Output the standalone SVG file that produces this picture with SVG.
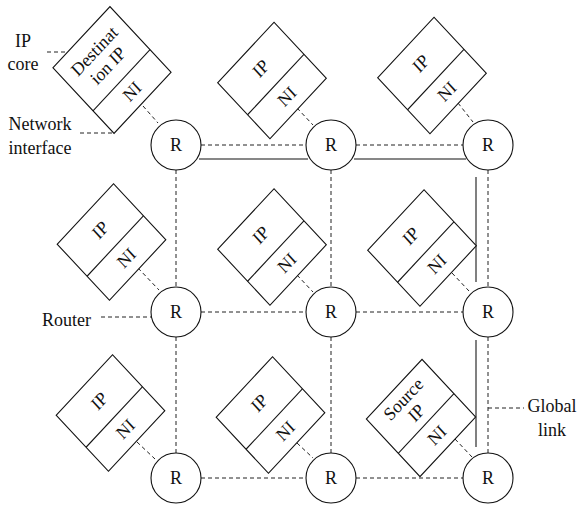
<svg xmlns="http://www.w3.org/2000/svg" width="578" height="507" viewBox="0 0 578 507" font-family="Liberation Serif, DejaVu Serif, serif">
<style>
text{font-family:'Liberation Serif','DejaVu Serif','Times New Roman',serif;font-size:18px;fill:#111}
.box rect,.box line{fill:none;stroke:#111;stroke-width:1.1}
.box rect{fill:#fff}
.bt{text-anchor:middle;dominant-baseline:central}
.r circle{fill:#fff;stroke:#111;stroke-width:1.1}
.r text{text-anchor:middle}
.d{stroke:#222;stroke-width:1;stroke-dasharray:4 3;fill:none}
.s{stroke:#111;stroke-width:1.2;fill:none}
.g{stroke:#808080;stroke-width:2;fill:none}
.lbl{text-anchor:middle}
</style>
<rect width="578" height="507" fill="#fff"/>
<g id="connectors">
<line class="d" x1="201" y1="145" x2="306" y2="145"/>
<line class="d" x1="356" y1="145" x2="463" y2="145"/>
<line class="s" x1="199" y1="159" x2="308" y2="159"/>
<line class="s" x1="354" y1="159" x2="466" y2="159"/>
<line class="d" x1="201" y1="312" x2="306" y2="312"/>
<line class="d" x1="356" y1="312" x2="463" y2="312"/>
<line class="d" x1="201" y1="478" x2="306" y2="478"/>
<line class="d" x1="356" y1="478" x2="463" y2="478"/>
<line class="d" x1="176" y1="170" x2="176" y2="287"/>
<line class="d" x1="176" y1="337" x2="176" y2="453"/>
<line class="d" x1="331" y1="170" x2="331" y2="287"/>
<line class="d" x1="331" y1="337" x2="331" y2="453"/>
<line class="d" x1="488" y1="170" x2="488" y2="287"/>
<line class="d" x1="488" y1="337" x2="488" y2="453"/>
<line class="g" x1="476" y1="177" x2="476" y2="282"/>
<line class="g" x1="476" y1="340" x2="476" y2="447"/>
<line class="d" x1="143" y1="106" x2="158" y2="123"/>
<line class="d" x1="297" y1="108" x2="313" y2="125"/>
<line class="d" x1="458" y1="103" x2="473" y2="122"/>
<line class="d" x1="138" y1="268" x2="159" y2="290"/>
<line class="d" x1="297" y1="275" x2="313" y2="292"/>
<line class="d" x1="452" y1="273" x2="469" y2="291"/>
<line class="d" x1="137" y1="442" x2="155" y2="459"/>
<line class="d" x1="297" y1="443" x2="313" y2="458"/>
<line class="d" x1="455" y1="439" x2="472" y2="457"/>
<line class="d" x1="47" y1="52" x2="67" y2="52"/>
<line class="d" x1="80" y1="133" x2="113" y2="133"/>
<line class="d" x1="101" y1="317" x2="152" y2="317"/>
<line class="d" x1="488" y1="408" x2="524" y2="408"/>
</g>
<g id="labels">
<text class="lbl" x="23" y="47">IP</text>
<text class="lbl" x="23" y="70">core</text>
<text class="lbl" x="40" y="130">Network</text>
<text class="lbl" x="40" y="154">interface</text>
<text x="42" y="326">Router</text>
<text class="lbl" x="552" y="412">Global</text>
<text class="lbl" x="552" y="436">link</text>
</g>
<g id="node-dest" class="box" transform="translate(112,70) scale(0.96,1.03) rotate(-45)">
<rect x="-42" y="-45" width="84" height="90"/>
<line x1="-42" y1="14" x2="42" y2="14"/>
<text class="bt" x="0" y="-26">Destinat</text>
<text class="bt" x="0" y="-6">ion IP</text>
<text class="bt" x="0" y="29.5">NI</text>
</g>
<g id="node-ip12" class="box" transform="translate(272,80.5) scale(0.96,1.03) rotate(-45)">
<rect x="-41.5" y="-38.5" width="83" height="77"/>
<line x1="-41.5" y1="5.5" x2="41.5" y2="5.5"/>
<text class="bt" x="0" y="-16.5">IP</text>
<text class="bt" x="0" y="22">NI</text>
</g>
<g id="node-ip13" class="box" transform="translate(432,75.5) scale(0.96,1.03) rotate(-45)">
<rect x="-41.5" y="-38.5" width="83" height="77"/>
<line x1="-41.5" y1="5.5" x2="41.5" y2="5.5"/>
<text class="bt" x="0" y="-16.5">IP</text>
<text class="bt" x="0" y="22">NI</text>
</g>
<g id="node-ip21" class="box" transform="translate(111.5,242) scale(0.96,1.03) rotate(-45)">
<rect x="-41.5" y="-38.5" width="83" height="77"/>
<line x1="-41.5" y1="5.5" x2="41.5" y2="5.5"/>
<text class="bt" x="0" y="-16.5">IP</text>
<text class="bt" x="0" y="22">NI</text>
</g>
<g id="node-ip22" class="box" transform="translate(272,247) scale(0.96,1.03) rotate(-45)">
<rect x="-41.5" y="-38.5" width="83" height="77"/>
<line x1="-41.5" y1="5.5" x2="41.5" y2="5.5"/>
<text class="bt" x="0" y="-16.5">IP</text>
<text class="bt" x="0" y="22">NI</text>
</g>
<g id="node-ip23" class="box" transform="translate(422,248) scale(0.96,1.03) rotate(-45)">
<rect x="-41.5" y="-38.5" width="83" height="77"/>
<line x1="-41.5" y1="5.5" x2="41.5" y2="5.5"/>
<text class="bt" x="0" y="-16.5">IP</text>
<text class="bt" x="0" y="22">NI</text>
</g>
<g id="node-ip31" class="box" transform="translate(110.5,413) scale(0.96,1.03) rotate(-45)">
<rect x="-41.5" y="-38.5" width="83" height="77"/>
<line x1="-41.5" y1="5.5" x2="41.5" y2="5.5"/>
<text class="bt" x="0" y="-16.5">IP</text>
<text class="bt" x="0" y="22">NI</text>
</g>
<g id="node-ip32" class="box" transform="translate(270.5,415) scale(0.96,1.03) rotate(-45)">
<rect x="-41.5" y="-38.5" width="83" height="77"/>
<line x1="-41.5" y1="5.5" x2="41.5" y2="5.5"/>
<text class="bt" x="0" y="-16.5">IP</text>
<text class="bt" x="0" y="22">NI</text>
</g>
<g id="node-source" class="box" transform="translate(421,418) scale(0.96,1.03) rotate(-45)">
<rect x="-41" y="-39.5" width="82" height="79"/>
<line x1="-41" y1="7.5" x2="41" y2="7.5"/>
<text class="bt" x="0" y="-26">Source</text>
<text class="bt" x="0" y="-7">IP</text>
<text class="bt" x="0" y="23.5">NI</text>
</g>
<g id="router-11" class="r"><circle cx="176" cy="145" r="25"/><text x="176" y="151">R</text></g>
<g id="router-12" class="r"><circle cx="331" cy="145" r="25"/><text x="331" y="151">R</text></g>
<g id="router-13" class="r"><circle cx="488" cy="145" r="25"/><text x="488" y="151">R</text></g>
<g id="router-21" class="r"><circle cx="176" cy="312" r="25"/><text x="176" y="318">R</text></g>
<g id="router-22" class="r"><circle cx="331" cy="312" r="25"/><text x="331" y="318">R</text></g>
<g id="router-23" class="r"><circle cx="488" cy="312" r="25"/><text x="488" y="318">R</text></g>
<g id="router-31" class="r"><circle cx="176" cy="478" r="25"/><text x="176" y="484">R</text></g>
<g id="router-32" class="r"><circle cx="331" cy="478" r="25"/><text x="331" y="484">R</text></g>
<g id="router-33" class="r"><circle cx="488" cy="478" r="25"/><text x="488" y="484">R</text></g>
</svg>
